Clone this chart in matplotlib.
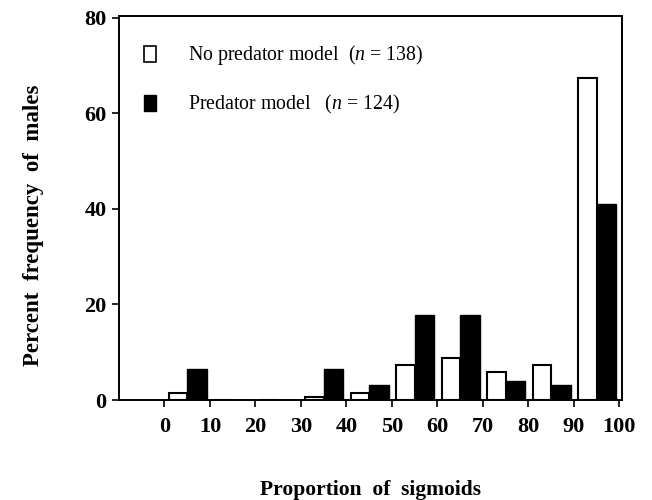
import numpy as np
import matplotlib
matplotlib.use("Agg")
from matplotlib import pyplot as plt
from matplotlib.patches import Patch

plt.rcParams['font.family'] = ['Liberation Serif', 'DejaVu Serif']
plt.rcParams['mathtext.fontset'] = 'custom'
plt.rcParams['mathtext.rm'] = 'Liberation Serif'
plt.rcParams['mathtext.it'] = 'Liberation Serif:italic'

# DATA (percent of males in each decile of sigmoid proportion)
bin_starts = [0, 10, 20, 30, 40, 50, 60, 70, 80, 90]
no_predator = [1.45, 0, 0, 0.72, 1.45, 7.25, 8.7, 5.8, 7.25, 67.4]
predator = [6.45, 0, 0, 6.45, 3.2, 17.7, 17.7, 4.0, 3.2, 41.1]
x_ticks = [0, 10, 20, 30, 40, 50, 60, 70, 80, 90, 100]
y_ticks = [0, 20, 40, 60, 80]
label_no = r"No predator model  ($n$ = 138)"
label_pred = r"Predator model   ($n$ = 124)"

fig = plt.figure(figsize=(6.52, 5), dpi=100)
ax = fig.add_axes([0.1825, 0.2, 0.771, 0.768])

x = np.array(bin_starts, dtype=float)
ax.bar(x + 0.9, no_predator, width=4.1, align='edge', color='white',
       edgecolor='black', linewidth=1.5)
ax.bar(x + 5.0, predator, width=4.3, align='edge', color='black',
       edgecolor='black', linewidth=1.0)

ax.set_xlim(-10, 100.5)
ax.set_ylim(0, 80.4)
ax.set_xticks(x_ticks)
ax.set_yticks(y_ticks)
ax.tick_params(direction='out', length=5, width=1.2, labelsize=16)
for lab in ax.get_xticklabels() + ax.get_yticklabels():
    lab.set_fontweight('bold')
ax.tick_params(axis='x', pad=7)
ax.tick_params(axis='y', pad=4)
for s in ax.spines.values():
    s.set_linewidth(1.4)

ax.set_xlabel("Proportion  of  sigmoids", fontsize=15.5, fontweight='bold', labelpad=31)
ax.set_ylabel("Percent  frequency  of  males", fontsize=16.5, fontweight='bold')
ax.yaxis.set_label_coords(-0.15, 0.455)

handles = [Patch(facecolor='white', edgecolor='black', linewidth=1.2),
           Patch(facecolor='black', edgecolor='black')]
ax.legend(handles, [label_no, label_pred], loc='upper left',
          bbox_to_anchor=(0.015, 0.975), frameon=False, fontsize=14.3,
          handlelength=0.6, handleheight=0.85, handletextpad=1.6,
          labelspacing=1.3)

fig.savefig("out.png", dpi=100)
